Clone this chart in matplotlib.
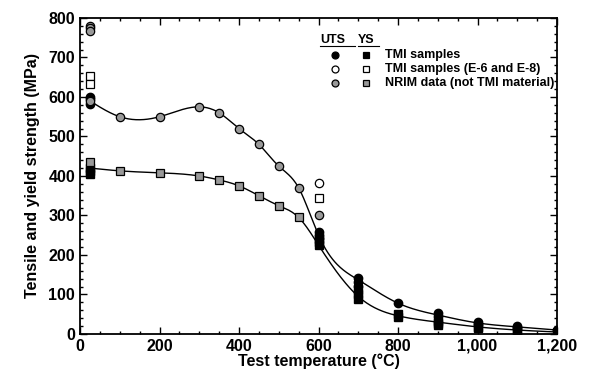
import matplotlib
matplotlib.use('Agg')
import matplotlib.pyplot as plt
from matplotlib.ticker import MultipleLocator, FuncFormatter
import numpy as np

plt.rcParams['font.family'] = ['Liberation Sans', 'DejaVu Sans']
plt.rcParams['font.weight'] = 'bold'
plt.rcParams['axes.labelweight'] = 'bold'

# TMI samples (filled)
tmi_uts_T = [25, 25, 25, 600, 600, 600, 700, 700, 700, 800, 900, 900, 1000, 1000, 1100, 1100, 1200]
tmi_uts = [600, 595, 583, 258, 250, 244, 142, 132, 122, 78, 52, 45, 30, 25, 20, 15, 10]
tmi_ys_T = [25, 25, 25, 600, 600, 600, 700, 700, 700, 800, 800, 900, 900, 900, 1000, 1000, 1100, 1100, 1200]
tmi_ys = [420, 412, 405, 240, 232, 225, 112, 100, 88, 50, 44, 34, 28, 24, 18, 15, 10, 8, 5]

# TMI samples E-6 and E-8 (open)
e_uts_T = [600]
e_uts = [383]
e_ys_T = [25, 25, 600]
e_ys = [652, 633, 345]

# NRIM data (hatched)
nrim_uts_T = [25, 25, 25, 25, 100, 200, 300, 350, 400, 450, 500, 550, 600]
nrim_uts = [780, 774, 768, 590, 550, 550, 575, 560, 520, 480, 425, 370, 301]
nrim_ys_T = [25, 100, 200, 300, 350, 400, 450, 500, 550]
nrim_ys = [435, 413, 408, 400, 390, 375, 350, 325, 295]

# fitted curves (knots)
curve_T = [25, 100, 200, 300, 350, 400, 450, 500, 550, 600, 700, 800, 900, 1000, 1100, 1200]
uts_curve = [590, 550, 550, 575, 560, 520, 480, 425, 370, 250, 137, 78, 48, 28, 18, 10]
ys_curve = [420, 413, 408, 400, 390, 375, 350, 325, 295, 225, 95, 46, 30, 18, 10, 5]


def spline(x, y, xs):
    # natural cubic spline
    x = np.asarray(x, float)
    y = np.asarray(y, float)
    n = len(x)
    h = np.diff(x)
    A = np.zeros((n, n))
    b = np.zeros(n)
    A[0, 0] = A[-1, -1] = 1
    for i in range(1, n - 1):
        A[i, i - 1] = h[i - 1]
        A[i, i] = 2 * (h[i - 1] + h[i])
        A[i, i + 1] = h[i]
        b[i] = 6 * ((y[i + 1] - y[i]) / h[i] - (y[i] - y[i - 1]) / h[i - 1])
    M = np.linalg.solve(A, b)
    idx = np.clip(np.searchsorted(x, xs) - 1, 0, n - 2)
    x0, x1 = x[idx], x[idx + 1]
    hh = x1 - x0
    t0, t1 = x1 - xs, xs - x0
    return (M[idx] * t0 ** 3 / (6 * hh) + M[idx + 1] * t1 ** 3 / (6 * hh)
            + (y[idx] / hh - M[idx] * hh / 6) * t0 + (y[idx + 1] / hh - M[idx + 1] * hh / 6) * t1)


fig = plt.figure(figsize=(5.91, 3.81), dpi=100)
ax = fig.add_axes([0.1354, 0.1234, 0.8071, 0.8294])

xs = np.linspace(25, 1200, 600)
ax.plot(xs, spline(curve_T, uts_curve, xs), color='black', lw=1)
ax.plot(xs, spline(curve_T, ys_curve, xs), color='black', lw=1)

ms = 6
ax.plot(tmi_uts_T, tmi_uts, 'o', ms=ms, mfc='black', mec='black', ls='none')
ax.plot(tmi_ys_T, tmi_ys, 's', ms=ms, mfc='black', mec='black', ls='none')
ax.plot(e_uts_T, e_uts, 'o', ms=ms, mfc='white', mec='black', mew=0.9, ls='none')
ax.plot(e_ys_T, e_ys, 's', ms=ms, mfc='white', mec='black', mew=0.9, ls='none')
ax.plot(nrim_uts_T, nrim_uts, 'o', ms=ms, mfc='0.6', mec='black', mew=0.9, ls='none')
ax.plot(nrim_ys_T, nrim_ys, 's', ms=ms, mfc='0.6', mec='black', mew=0.9, ls='none')

ax.set_xlim(0, 1200)
ax.set_ylim(0, 800)
ax.xaxis.set_major_locator(MultipleLocator(200))
ax.xaxis.set_minor_locator(MultipleLocator(50))
ax.yaxis.set_major_locator(MultipleLocator(100))
ax.yaxis.set_minor_locator(MultipleLocator(20))
ax.xaxis.set_major_formatter(FuncFormatter(lambda v, p: f'{int(v):,}'))
ax.tick_params(which='both', direction='in', top=True, right=True, labelsize=11.5, width=1)
ax.tick_params(which='major', length=5)
ax.tick_params(which='minor', length=2.5)
for s in ax.spines.values():
    s.set_linewidth(1.3)

ax.set_xlabel('Test temperature (°C)', fontsize=11.5, labelpad=0)
ax.set_ylabel('Tensile and yield strength (MPa)', fontsize=11.5, labelpad=6)

# hand-made legend
lx_u, lx_y, lx_t = 0.567, 0.62, 0.652
fig.text(lx_u - 0.025, 0.887, 'UTS', fontsize=9, fontweight='bold')
fig.text(lx_y - 0.015, 0.887, 'YS', fontsize=9, fontweight='bold')
fig.add_artist(plt.Line2D([lx_u - 0.025, lx_u + 0.033], [0.88, 0.88], color='black', lw=0.8))
fig.add_artist(plt.Line2D([lx_y - 0.015, lx_y + 0.021], [0.88, 0.88], color='black', lw=0.8))
rows = [('black', 'TMI samples'), ('white', 'TMI samples (E-6 and E-8)'),
        ('0.6', 'NRIM data (not TMI material)')]
for i, (fc, lab) in enumerate(rows):
    yy = 0.855 - i * 0.037
    fig.add_artist(plt.Line2D([lx_u], [yy], marker='o', ms=5, mfc=fc, mec='black', mew=0.9))
    fig.add_artist(plt.Line2D([lx_y], [yy], marker='s', ms=5, mfc=fc, mec='black', mew=0.9))
    fig.text(lx_t, yy, lab, fontsize=9, fontweight='bold', va='center')

fig.savefig('out.png', dpi=100)
